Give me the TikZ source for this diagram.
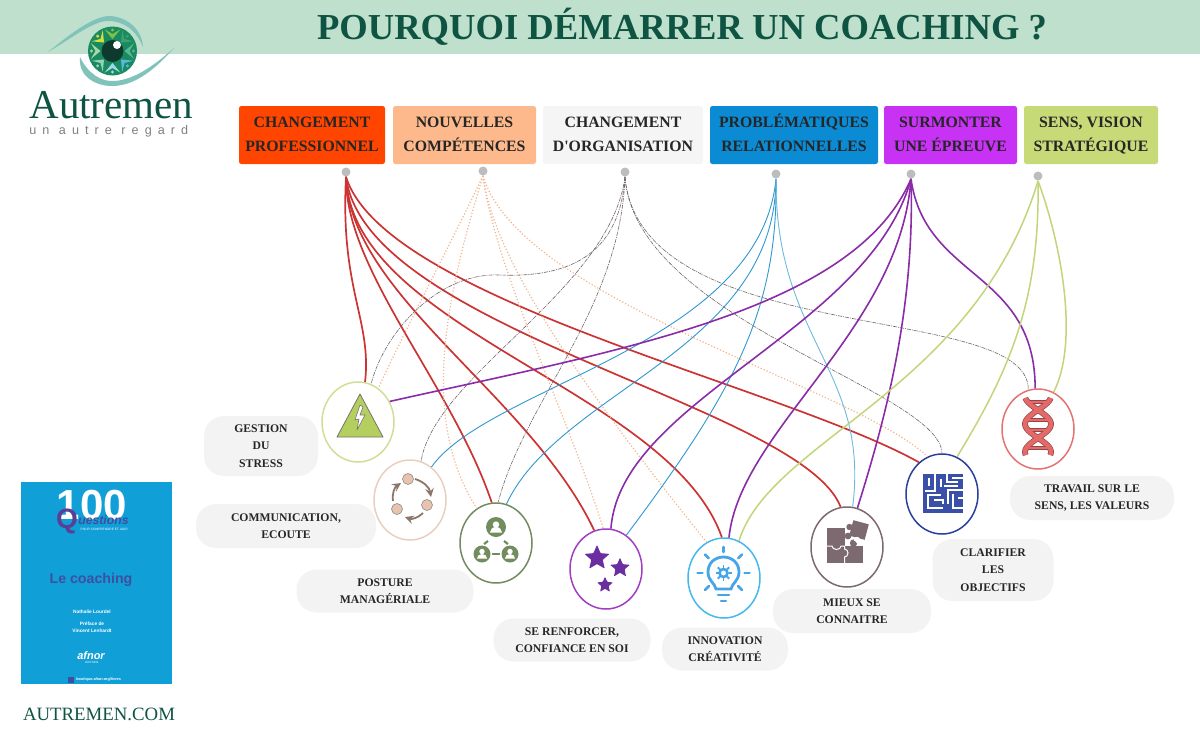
\documentclass[tikz,border=0pt]{standalone}
\usepackage{fontspec}
\setmainfont{Liberation Serif}[Ligatures=TeXOff]
\newfontfamily\bookfont{Liberation Sans}
\newfontfamily\logofont[LetterSpace=48]{Liberation Sans}
\usetikzlibrary{shapes.geometric, arrows, positioning, calc}

\definecolor{bandgreen}{HTML}{BFE0CD}
\definecolor{darkgreen}{HTML}{0F5443}
\definecolor{eyeteal}{HTML}{7FC3BA}
\definecolor{irisgreen}{HTML}{1A8A60}
\definecolor{pupildark}{HTML}{0E3A2E}
\definecolor{linkred}{HTML}{CC3333}
\definecolor{linkpeach}{HTML}{F3B48E}
\definecolor{linkgray}{HTML}{6E6468}
\definecolor{linkblue}{HTML}{2E97CF}
\definecolor{linksky}{HTML}{6CB9DE}
\definecolor{linkpurple}{HTML}{8A2BA8}
\definecolor{linkgreen}{HTML}{C2D57A}
\definecolor{boxred}{HTML}{FF4500}
\definecolor{boxpeach}{HTML}{FDB98B}
\definecolor{boxgray}{HTML}{F5F5F5}
\definecolor{boxblue}{HTML}{0A8BD4}
\definecolor{boxviolet}{HTML}{C832F5}
\definecolor{boxgreen}{HTML}{C7DA78}
\definecolor{pillgray}{HTML}{F3F3F3}
\definecolor{ringgreen}{HTML}{CFDF95}
\definecolor{ringpink}{HTML}{E9CFBF}
\definecolor{ringmoss}{HTML}{728C60}
\definecolor{ringviolet}{HTML}{A040C0}
\definecolor{ringsky}{HTML}{45B8EC}
\definecolor{ringmauve}{HTML}{7D6A70}
\definecolor{ringnavy}{HTML}{2B3F9C}
\definecolor{ringrose}{HTML}{E57373}
\definecolor{iconviolet}{HTML}{6A2EA0}
\definecolor{iconblue}{HTML}{45A5E8}
\definecolor{iconmaze}{HTML}{3A4FA8}
\definecolor{iconlime}{HTML}{B5CF5E}
\definecolor{iconpink}{HTML}{E8C4AE}
\definecolor{iconrose}{HTML}{E46A6A}
\definecolor{bookblue}{HTML}{119FD8}
\definecolor{bookink}{HTML}{3F4FA0}
\definecolor{bookq}{HTML}{5B3E96}
\definecolor{dotgray}{HTML}{BDBDBD}
\definecolor{petala}{HTML}{7DC242}
\definecolor{petalb}{HTML}{D5DF3C}
\definecolor{petalc}{HTML}{A8D8A8}
\definecolor{petald}{HTML}{9AD0B8}
\definecolor{petale}{HTML}{9FD8E8}
\definecolor{petalf}{HTML}{58B8E0}
\definecolor{petalg}{HTML}{58B890}
\definecolor{petalh}{HTML}{3DA070}

\tikzset{
  headbox/.style={rectangle, rounded corners=1.2pt, inner sep=0pt, minimum height=29pt,
    align=center, text=black!85, font=\fontsize{7.9}{12}\selectfont\bfseries},
  startdot/.style={circle, fill=dotgray, inner sep=0pt, minimum size=4.5pt},
  iconring/.style={ellipse, fill=white, line width=0.75pt, inner sep=0pt, minimum width=36pt, minimum height=40pt},
  pill/.style={rectangle, fill=pillgray, rounded corners=10pt, inner sep=0pt, align=center,
    text=black!85, font=\fontsize{5.85}{8.75}\selectfont\bfseries},
  redlink/.style={linkred, line width=0.85pt},
  peachlink/.style={linkpeach, line width=0.6pt, densely dotted},
  graylink/.style={linkgray, line width=0.3pt, dash pattern=on 2pt off 0.5pt on 0.5pt off 0.5pt},
  bluelink/.style={linkblue, line width=0.45pt},
  purplelink/.style={linkpurple, line width=0.8pt},
  greenlink/.style={linkgreen, line width=0.75pt},
  booktext/.style={text=white, font=\bookfont\bfseries\fontsize{2.4}{3}\selectfont, inner sep=0pt},
  commarrow/.style={-stealth, line width=0.9pt, black!40!iconpink, bend left=32}
}

\begin{document}
\begin{tikzpicture}[x=0.5pt, y=-0.5pt]
\useasboundingbox (0,0) rectangle (1200,740);

% Top band and title
\fill[bandgreen] (0,0) rectangle (1200,54);
\node[text=darkgreen, font=\fontsize{18.3}{20}\selectfont\bfseries, inner sep=0pt] (title) at (682,27)
    {POURQUOI DÉMARRER UN COACHING ?};

% Logo
\fill[eyeteal] (48,52) .. controls (75,30) and (95,16) .. (110,16)
    .. controls (128,17) and (142,30) .. (143,47) .. controls (136,30) and (124,21) .. (108,21)
    .. controls (93,21) and (72,38) .. (48,52) -- cycle;
\fill[eyeteal] (80,57) .. controls (88,74) and (102,82) .. (114,81)
    .. controls (136,80) and (158,62) .. (174,48) .. controls (158,66) and (137,86) .. (112,86)
    .. controls (95,86) and (78,76) .. (80,57) -- cycle;
\fill[irisgreen] (112.5,51) circle (24.5);
\foreach \a/\col in {-90/petala, -135/petalb, 180/petalc, 135/petald,
    90/petale, 45/petalf, 0/petalg, -45/petalh} {
    \fill[\col, shift={(112.5,51)}] (\a:12) -- (\a+20:23) -- (\a:17) -- (\a-20:23) -- cycle;
    \fill[\col, shift={(112.5,51)}] (\a:21) circle (1.7);
}
\fill[pupildark] (112.5,51) circle (11);
\fill[white] (117,45) circle (4);
\node[anchor=base west, text=darkgreen, font=\fontsize{20.5}{22}\selectfont, inner sep=0pt] (logoname) at (29,118) {Autremen};
\node[anchor=base west, text=black!50, font=\logofont\fontsize{6.3}{7}\selectfont, inner sep=0pt] (logotag) at (29,134) {un autre regard};

% Headers with their start dots
\foreach \name/\xl/\xr/\col/\txt/\dx/\dy in {
    pro/239/385/boxred/{CHANGEMENT\\PROFESSIONNEL}/346/172,
    comp/393/536/boxpeach/{NOUVELLES\\COMPÉTENCES}/483/171,
    orga/543/703/boxgray/{CHANGEMENT\\D'ORGANISATION}/625/172,
    rela/710/878/boxblue/{PROBLÉMATIQUES\\RELATIONNELLES}/776/174,
    epre/884/1017/boxviolet/{SURMONTER\\UNE ÉPREUVE}/911/174,
    sens/1024/1158/boxgreen/{SENS, VISION\\STRATÉGIQUE}/1038/176} {
    \pgfmathsetmacro\xm{(\xl+\xr)/2}
    \pgfmathsetmacro\boxw{(\xr-\xl)*0.5}
    \fill[\col, rounded corners=1.2pt] (\xl,106) rectangle (\xr,164);
    \node[headbox, minimum width=\boxw pt, anchor=north, text depth=0pt] (\name) at (\xm,103) {\rule{0pt}{7.5pt}\txt};
    \node[startdot] (dot\name) at (\dx,\dy) {};
}

% Rings
\foreach \name/\x/\y/\col in {stress/358/422/ringgreen, comm/410/500/ringpink, posture/496/543/ringmoss,
    stars/606/569/ringviolet, innov/724/578/ringsky, mieux/847/547/ringmauve,
    clar/942/494/ringnavy, trav/1038/429/ringrose} {
    \node[iconring, draw=\col] (\name) at (\x,\y) {};
}

% Changement professionnel
\draw[redlink] (dotpro.south) .. controls (340,290) and (372,320) .. (stress.80);
\draw[redlink] (dotpro.south) .. controls (345,270) and (452,385) .. (posture.96);
\draw[redlink] (dotpro.south) .. controls (350,295) and (530,395) .. (stars.107);
\draw[redlink] (dotpro.south) .. controls (352,330) and (670,390) .. (innov.93);
\draw[redlink] (dotpro.south) .. controls (365,330) and (800,405) .. (mieux.99);
\draw[redlink] (dotpro.south) .. controls (385,300) and (780,385) .. (clar.126);

% Nouvelles competences
\draw[peachlink] (dotcomp.south) .. controls (455,235) and (405,330) .. (stress.59);
\draw[peachlink] (dotcomp.south) .. controls (445,300) and (420,420) .. (posture.119);
\draw[peachlink] (dotcomp.south) .. controls (495,270) and (570,420) .. (stars.94);
\draw[peachlink] (dotcomp.south) .. controls (495,275) and (625,440) .. (innov.116);
\draw[peachlink] (dotcomp.south) .. controls (520,300) and (850,385) .. (clar.111);

% Changement d'organisation
\draw[graylink] (dotorga.south) .. controls (620,250) and (575,278) .. (500,275)
    .. controls (440,272) and (385,330) .. (stress.71);
\draw[graylink] (dotorga.south) .. controls (610,290) and (435,375) .. (comm.74);
\draw[graylink] (dotorga.south) .. controls (620,310) and (525,400) .. (posture.87);
\draw[graylink] (dotorga.south) .. controls (635,320) and (940,390) .. (clar.90);
\draw[graylink] (dotorga.south) .. controls (640,350) and (1030,300) .. (trav.104);

% Problematiques relationnelles
\draw[bluelink] (dotrela.south) .. controls (760,345) and (490,385) .. (comm.57);
\draw[bluelink] (dotrela.south) .. controls (775,350) and (560,390) .. (posture.75);
\draw[bluelink] (dotrela.south) .. controls (778,310) and (735,390) .. (stars.59);
\draw[bluelink, linksky] (dotrela.south) .. controls (775,340) and (870,370) .. (mieux.82);

% Surmonter une epreuve
\draw[purplelink] (dotepre.south) .. controls (855,310) and (620,350) .. (stress.33);
\draw[purplelink] (dotepre.south) .. controls (870,330) and (620,400) .. (stars.83);
\draw[purplelink] (dotepre.south) .. controls (900,330) and (740,430) .. (innov.83);
\draw[purplelink] (dotepre.south) .. controls (915,310) and (885,420) .. (mieux.75);
\draw[purplelink] (dotepre.south) .. controls (925,280) and (1035,270) .. (trav.94);

% Sens, vision
\draw[greenlink] (dotsens.south) .. controls (975,390) and (770,440) .. (innov.68);
\draw[greenlink] (dotsens.south) .. controls (1040,300) and (1010,370) .. (clar.68);
\draw[greenlink] (dotsens.south) .. controls (1060,240) and (1080,340) .. (trav.67);

% Stress icon
\draw[fill=iconlime, draw=black!55, line width=0.4pt, line join=round] (360,394) -- (383,437) -- (337,437) -- cycle;
\draw[fill=white, draw=black!55, line width=0.3pt, line join=round] (360,405) -- (355,420) -- (359,419) -- (357,430)
    -- (365,415) -- (360,415) -- (363,407) -- cycle;

% Communication icon
\foreach \x/\y in {408/479, 427/505, 397/509} {
    \draw[fill=iconpink, draw=black!45, line width=0.3pt] (\x,\y) circle (5.5);
}
\draw[commarrow] (415,479) to (431,497);
\draw[commarrow] (423,513) to (405,517);
\draw[commarrow] (393,501) to (401,483);

% Posture icon
\foreach \x/\y/\r in {496/527/10, 482/554/8.5, 510/554/8.5} {
    \fill[ringmoss] (\x,\y) circle (\r);
    \fill[white] (\x,\y-2.5) circle (\r*0.32);
    \fill[white] (\x-\r*0.6,\y+\r*0.55) arc (180:360:\r*0.6 and \r*0.55) -- cycle;
}
\draw[ringmoss, line width=1.1pt] (488,541) -- (484,544);
\draw[ringmoss, line width=1.1pt] (504,541) -- (508,544);
\draw[ringmoss, line width=1.1pt] (492,554) -- (500,554);

% Stars icon
\foreach \name/\x/\y/\r in {stara/597/558/6.6, starb/620/568/5.2, starc/605/585/4.2} {
    \node[star, star points=5, star point ratio=2.2, fill=iconviolet, rounded corners=0.4pt,
        inner sep=0pt, minimum size=2*\r pt] (\name) at (\x,\y) {};
}

% Bulb icon
\draw[iconblue, line width=1.4pt] (716,589) .. controls (715,583) and (708,581) .. (708,572)
    .. controls (708,563) and (715,557) .. (723.5,557) .. controls (732,557) and (739,563) .. (739,572)
    .. controls (739,581) and (732,583) .. (731,589) -- cycle;
\draw[iconblue, line width=1.3pt, line cap=round] (718,595) -- (729,595);
\draw[iconblue, line width=1.3pt, line cap=round] (721,601) -- (726,601);
\draw[iconblue, line width=1.3pt] (723.5,573) circle (4);
\foreach \a in {0,45,...,315} {
    \draw[iconblue, line width=0.9pt, shift={(723.5,573)}] (\a:5) -- (\a:8);
}
\foreach \a in {180,225,270,315,360} {
    \draw[iconblue, line width=1.3pt, line cap=round, shift={(723.5,573)}] (\a:21) -- (\a:26);
}
\draw[iconblue, line width=1.3pt, line cap=round] (705,590) -- (709,586);
\draw[iconblue, line width=1.3pt, line cap=round] (742,590) -- (738,586);

% Puzzle icon
\fill[ringmauve] (827,528) rectangle (845,546);
\fill[ringmauve] (848,536) circle (3.4);
\fill[ringmauve] (827,546) rectangle (863,563);
\fill[ringmauve] (853.5,543) circle (3.6);
\fill[ringmauve, rotate around={-15:(859,530)}] (851,522) rectangle (867,538);
\fill[ringmauve] (849.5,527) circle (3.2);
\fill[white] (857,540) circle (3.2);
\fill[ringmauve] (853.5,544) circle (3.2);
\draw[white, line width=0.5pt] (827,546) -- (832,546) arc (180:0:4.5 and 3.5) -- (844.5,546)
    -- (844.5,549) arc (-90:90:3.5 and 4) -- (844.5,563);

% Maze icon
\fill[iconmaze] (923,474) rectangle (963,513);
\foreach \pth in {{(929,478) -- (929,486)}, {(935,474) -- (935,491) -- (925,491)}, {(941,479) -- (941,487)},
    {(947,474) -- (947,482) -- (958,482)}, {(952,478) -- (963,478)}, {(944,486) -- (958,486)},
    {(963,490) -- (948,490) -- (948,504)}, {(941,495) -- (928,495) -- (928,508) -- (943,508)},
    {(934,500) -- (943,500) -- (943,504)}, {(953,494) -- (953,508) -- (963,508)}, {(958,498) -- (963,498)}} {
    \draw[white, line width=0.9pt] \pth;
}

% DNA icon
\foreach \s in {13,-13} {
    \draw[black!35!iconrose, line width=2.9pt] plot[domain=398:455, samples=40] ({1038+\s*sin((\x-410)*6.43)},\x);
}
\foreach \y/\w in {402/12, 420/12, 430/12, 448/12} {
    \draw[black!35!iconrose, line width=1.6pt] (1038-\w,\y) -- (1038+\w,\y);
    \draw[iconrose, line width=1pt] (1038-\w,\y) -- (1038+\w,\y);
}
\foreach \s in {13,-13} {
    \draw[iconrose, line width=2.2pt] plot[domain=398:455, samples=40] ({1038+\s*sin((\x-410)*6.43)},\x);
}

% Label pills
\foreach \name/\x/\y/\w/\h/\txt in {
    lstress/261/446/114/60/{GESTION\\DU\\STRESS},
    lcomm/286/526/180/44/{COMMUNICATION,\\ECOUTE},
    lposture/385/591/177/43/{POSTURE\\MANAGÉRIALE},
    lstars/572/640/157/43/{SE RENFORCER,\\CONFIANCE EN SOI},
    linnov/725/649/126/43/{INNOVATION\\CRÉATIVITÉ},
    lmieux/852/611/158/44/{MIEUX SE\\CONNAITRE},
    lclar/993/570/121/62/{CLARIFIER\\LES\\OBJECTIFS},
    ltrav/1092/498/164/44/{TRAVAIL SUR LE\\SENS, LES VALEURS}} {
    \pgfmathsetmacro\boxw{\w*0.5}
    \pgfmathsetmacro\boxh{\h*0.5}
    \node[pill, minimum width=\boxw pt, minimum height=\boxh pt] (\name) at (\x,\y) {\txt};
}

% Book cover
\fill[bookblue] (21,482) rectangle (172,684);
\node[text=white, font=\bookfont\bfseries\fontsize{21}{22}\selectfont, inner sep=0pt] (bookhundred) at (92,505) {100};
\node[text=bookq, font=\bookfont\bfseries\fontsize{14}{14}\selectfont, inner sep=0pt] (bookq) at (67,521) {Q};
\node[anchor=west, text=bookink, font=\bookfont\bfseries\itshape\fontsize{6.1}{7}\selectfont, inner sep=0pt] (bookquestions) at (78,520) {uestions};
\node[anchor=east, booktext, font=\bookfont\fontsize{1.6}{2}\selectfont] (bookagir) at (128,529) {POUR COMPRENDRE ET AGIR};
\node[text=bookink, font=\bookfont\bfseries\fontsize{7.1}{8}\selectfont, inner sep=0pt] (booktitle) at (91,580) {Le coaching};
\node[booktext] (bookauthor) at (92,612) {Nathalie Lourdel};
\node[booktext] (bookpreface) at (92,624) {Préface de};
\node[booktext] (bookvincent) at (92,631) {Vincent Lenhardt};
\node[text=white, font=\bookfont\bfseries\itshape\fontsize{5.5}{6}\selectfont, inner sep=0pt] (bookafnor) at (91,656) {afnor};
\node[booktext, font=\bookfont\fontsize{1.4}{2}\selectfont] (bookedit) at (92,662) {ÉDITIONS};
\fill[bookink] (68,677) rectangle (74,683);
\node[anchor=west, booktext, font=\bookfont\bfseries\fontsize{1.9}{2}\selectfont] (bookshop) at (76,680) {boutique.afnor.org/livres};

% Site name
\node[text=darkgreen, font=\fontsize{9.4}{10}\selectfont, inner sep=0pt] (site) at (99,714) {AUTREMEN.COM};
\end{tikzpicture}
\end{document}
